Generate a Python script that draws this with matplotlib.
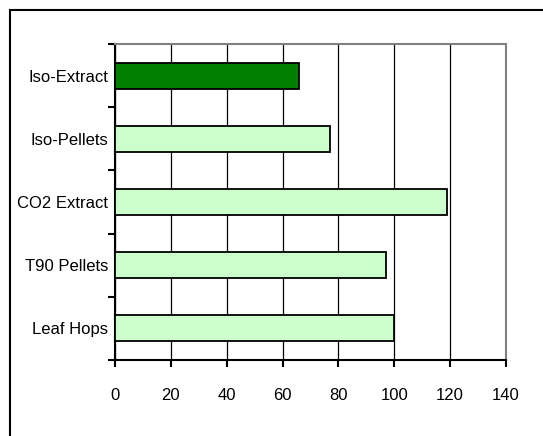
import numpy as np
import matplotlib
matplotlib.use('Agg')
import matplotlib.pyplot as plt
from matplotlib.patches import Rectangle

plt.rcParams['font.family'] = ['Liberation Sans', 'DejaVu Sans']

categories = ['Leaf Hops', 'T90 Pellets', 'CO2 Extract', 'Iso-Pellets', 'Iso-Extract']
values = [100, 97, 119, 77, 66]
bar_colors = ['#CCFFCC', '#CCFFCC', '#CCFFCC', '#CCFFCC', '#008000']
xticks = [0, 20, 40, 60, 80, 100, 120, 140]

fig = plt.figure(figsize=(5.43, 4.36), dpi=100)
fig.patches.append(Rectangle((10/543, -0.1), 1.2, 1 - 10/436 + 0.1,
                             transform=fig.transFigure, fill=False,
                             edgecolor='black', linewidth=1.5))

ax = fig.add_axes([115/543, 1 - 360/436, 391/543, 316/436])
y = np.arange(len(categories))
ax.barh(y, values, height=0.41, color=bar_colors, edgecolor='black',
        linewidth=1.3, zorder=3)

ax.set_xlim(0, 140)
ax.set_ylim(-0.5, len(categories) - 0.5)
ax.set_xticks(xticks)
ax.set_xticklabels([str(t) for t in xticks], fontsize=12)
ax.xaxis.grid(True, color='black', linewidth=0.9, zorder=0)

ax.set_yticks(np.arange(-0.5, len(categories)), minor=False)
ax.set_yticklabels([])
ax.set_yticks(y, minor=True)
ax.set_yticklabels(categories, minor=True, fontsize=12)
ax.tick_params(axis='y', which='minor', length=0, pad=5)
ax.tick_params(axis='y', which='major', length=5, width=1.5, direction='out')
ax.tick_params(axis='x', length=5, width=1.5, direction='out', pad=15)

for s in ['left', 'bottom']:
    ax.spines[s].set_color('black')
    ax.spines[s].set_linewidth(1.5)
for s in ['top', 'right']:
    ax.spines[s].set_color('#808080')
    ax.spines[s].set_linewidth(1.5)

fig.savefig('out.png', dpi=100)
